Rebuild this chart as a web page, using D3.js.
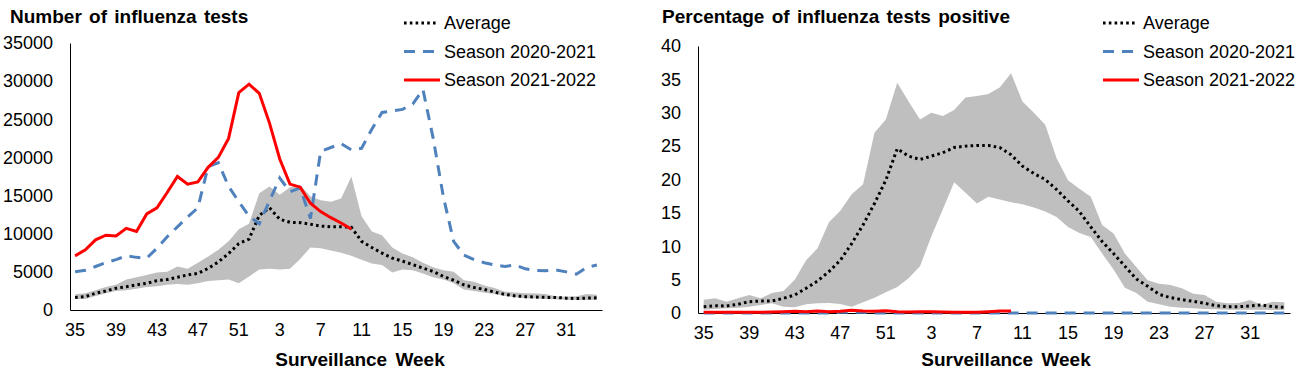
<!DOCTYPE html>
<html>
<head>
<meta charset="utf-8">
<script src="https://cdn.jsdelivr.net/npm/d3@7"></script>
<style>
  body { margin: 0; background: #fff; }
  svg { font-family: "Liberation Sans", Arial, sans-serif; }
</style>
</head>
<body>
<script>
// surveillance weeks 35..52 then 1..34
var weeks = d3.range(35, 53).concat(d3.range(1, 35)).map(String);
var tickWeeks = ["35","39","43","47","51","3","7","11","15","19","23","27","31"];

// number of influenza tests
var testsMax = [2050,2200,2600,3000,3300,4000,4300,4600,4900,5000,5700,5400,6200,7000,7900,9000,10600,11300,15300,16200,
  15100,16100,16400,14900,14400,14200,14600,17500,12300,10300,9800,8200,7400,6900,6200,5600,5200,5000,3900,3700,
  3200,2900,2400,2300,2200,2150,2100,1800,1750,1800,2100,2000];
var testsMin = [1450,1450,1850,2200,2500,2600,2800,3000,3100,3300,3400,3300,3500,3800,3900,4000,3500,4400,5300,5400,
  5300,5400,6700,8200,8100,7800,7500,7100,6600,6100,5900,4900,5300,5200,4800,4300,4000,3500,2700,2500,
  2250,2100,1850,1700,1550,1500,1450,1400,1350,1300,1300,1300];
var testsAvg = [1650,1750,2200,2500,2850,3050,3300,3500,3850,4000,4300,4600,4800,5450,6300,7400,8700,9300,12400,13400,
  11900,11500,11450,11250,11000,10900,10900,10850,9000,8200,7450,6800,6400,5950,5500,5050,4400,3900,3300,2950,
  2700,2350,2050,1850,1750,1700,1650,1650,1550,1500,1550,1600];
var tests2021 = [5000,5200,5700,6200,6600,7100,6900,6800,8100,9600,10900,12200,13400,18800,19300,16200,14200,12300,11300,14300,
  17300,15500,16000,12000,20800,21300,21800,21000,21200,23700,25900,26100,26300,27000,28900,22500,14800,9000,7200,6600,
  6200,5900,5700,5900,5400,5200,5150,5250,5000,4700,5600,5900];
var tests2122 = [7100,7900,9200,9800,9700,10700,10300,12600,13400,15400,17500,16500,16800,18700,20000,22500,28500,29600,28400,24500,
  19800,16500,16100,14000,12900,12100,11400,10600];

// percentage of tests positive
var posMax = [2.0,2.2,1.7,2.2,2.7,2.2,3.0,3.3,5.0,7.9,9.7,13.6,15.3,17.8,19.3,27.0,29.0,34.5,31.7,29.0,
  30.0,29.5,30.4,32.3,32.5,32.8,33.8,35.9,31.7,30.0,28.2,23.2,19.9,18.6,17.4,13.2,11.9,8.9,6.9,4.9,
  4.4,4.2,3.7,2.9,2.7,1.7,1.45,1.5,1.95,1.2,1.7,1.6];
var posMin = [0.5,0.6,0.7,0.8,0.95,1.2,1.45,0.95,0.85,1.3,1.45,1.5,1.35,0.95,1.6,2.3,3.1,3.9,5.2,7.0,
  11.5,15.5,19.6,18.0,16.4,17.4,17.0,16.6,16.3,15.8,15.2,14.4,12.9,12.0,11.4,8.9,6.5,3.8,3.0,1.7,
  1.3,0.95,0.8,0.7,0.6,0.55,0.5,0.5,0.5,0.5,0.45,0.45];
var posAvg = [0.95,1.1,1.05,1.3,1.7,1.8,1.8,2.2,2.7,3.7,4.8,6.2,7.9,10.4,13.2,16.4,19.9,24.6,23.5,23.0,
  23.5,24.0,24.8,25.0,25.1,25.1,24.8,23.7,22.0,20.9,20.0,18.5,16.8,15.2,12.9,10.7,8.9,7.0,5.1,4.0,
  2.8,2.3,2.0,1.75,1.45,1.1,0.95,0.95,1.05,1.2,0.95,0.85];
var pos2021 = [0,0,0,0,0,0,0,0,0,0,0,0,0.1,0.1,0.1,0,0,0,0,0,
  0,0,0,0,0,0,0,0,0,0,0,0,0,0,0,0,0,0,0,0,
  0,0,0,0,0,0,0,0,0,0,0,0];
var pos2122 = [0.1,0.1,0.1,0.1,0.1,0.1,0.15,0.2,0.25,0.2,0.3,0.2,0.25,0.4,0.3,0.25,0.35,0.2,0.15,0.2,
  0.2,0.15,0.1,0.1,0.1,0.2,0.3,0.3];

var legendNames = ["Average", "Season 2020-2021", "Season 2021-2022"];

var svg = d3.select("body").append("svg").attr("width", 1312).attr("height", 377);

function drawPanel(cfg) {
  var g = svg.append("g");

  var x = d3.scaleBand().domain(weeks).range([cfg.left, cfg.right]).padding(0);
  var cx = function (i) { return x(weeks[i]) + x.bandwidth() / 2; };
  var y = d3.scaleLinear().domain([0, cfg.yMax]).range([cfg.bottom, cfg.top]);

  // min-max band
  var area = d3.area()
    .x(function (d, i) { return cx(i); })
    .y0(function (d, i) { return y(cfg.min[i]); })
    .y1(function (d) { return y(d); });
  g.append("path").datum(cfg.max).attr("d", area).attr("fill", "#bfbfbf");

  // axes
  var yAxis = d3.axisLeft(y).tickValues(d3.range(0, cfg.yMax + 1, cfg.yStep))
    .tickFormat(d3.format("d")).tickSize(0).tickPadding(17);
  var gy = g.append("g").attr("transform", "translate(" + cfg.left + ",0)").call(yAxis);
  gy.selectAll("text").attr("font-size", 18).attr("fill", "#000").attr("font-family", "Liberation Sans, Arial");
  gy.select(".domain").attr("stroke", "#000");

  var xAxis = d3.axisBottom(x).tickValues(tickWeeks).tickSize(0).tickSizeOuter(0).tickPadding(13);
  var gx = g.append("g").attr("transform", "translate(0," + cfg.bottom + ")").call(xAxis);
  gx.selectAll("text").attr("font-size", 18).attr("fill", "#000").attr("font-family", "Liberation Sans, Arial");
  gx.select(".domain").attr("stroke", "#000");

  var line = d3.line()
    .x(function (d, i) { return cx(i); })
    .y(function (d) { return y(d); });

  g.append("path").datum(cfg.avg).attr("d", line).attr("fill", "none")
    .attr("stroke", "#000").attr("stroke-width", 3).attr("stroke-dasharray", "2.6,3.2");
  g.append("path").datum(cfg.s2021).attr("d", line).attr("fill", "none")
    .attr("stroke", "#4f81bd").attr("stroke-width", 3).attr("stroke-dasharray", "11,8");
  g.append("path").datum(cfg.s2122).attr("d", line).attr("fill", "none")
    .attr("stroke", "#ff0000").attr("stroke-width", 3);

  // titles
  g.append("text").attr("x", cfg.titleX).attr("y", 23).attr("font-size", 19)
    .attr("font-weight", "bold").attr("word-spacing", 2).text(cfg.title);
  g.append("text").attr("x", cfg.xTitleX).attr("y", 366).attr("font-size", 19)
    .attr("font-weight", "bold").attr("text-anchor", "middle").attr("word-spacing", 3)
    .text("Surveillance Week");

  // legend
  var leg = g.append("g");
  var styles = [
    {stroke: "#000", dash: "2.6,3.2"},
    {stroke: "#4f81bd", dash: "11,8"},
    {stroke: "#ff0000", dash: null}
  ];
  legendNames.forEach(function (name, k) {
    var ly = 23 + k * 28.5;
    leg.append("line").attr("x1", cfg.legX).attr("x2", cfg.legX + (k == 2 ? 36 : 34))
      .attr("y1", ly).attr("y2", ly).attr("stroke", styles[k].stroke).attr("stroke-width", 3)
      .attr("stroke-dasharray", styles[k].dash);
    leg.append("text").attr("x", cfg.legX + 40).attr("y", ly).attr("dy", "0.35em")
      .attr("font-size", 18).text(name);
  });
}

drawPanel({
  left: 70, right: 602, top: 43, bottom: 310, yMax: 35000, yStep: 5000,
  max: testsMax, min: testsMin, avg: testsAvg, s2021: tests2021, s2122: tests2122,
  title: "Number of influenza tests", titleX: 10, xTitleX: 360, legX: 404
});
drawPanel({
  left: 698, right: 1290, top: 46, bottom: 313, yMax: 40, yStep: 5,
  max: posMax, min: posMin, avg: posAvg, s2021: pos2021, s2122: pos2122,
  title: "Percentage of influenza tests positive", titleX: 662, xTitleX: 1006, legX: 1103
});
</script>
</body>
</html>
